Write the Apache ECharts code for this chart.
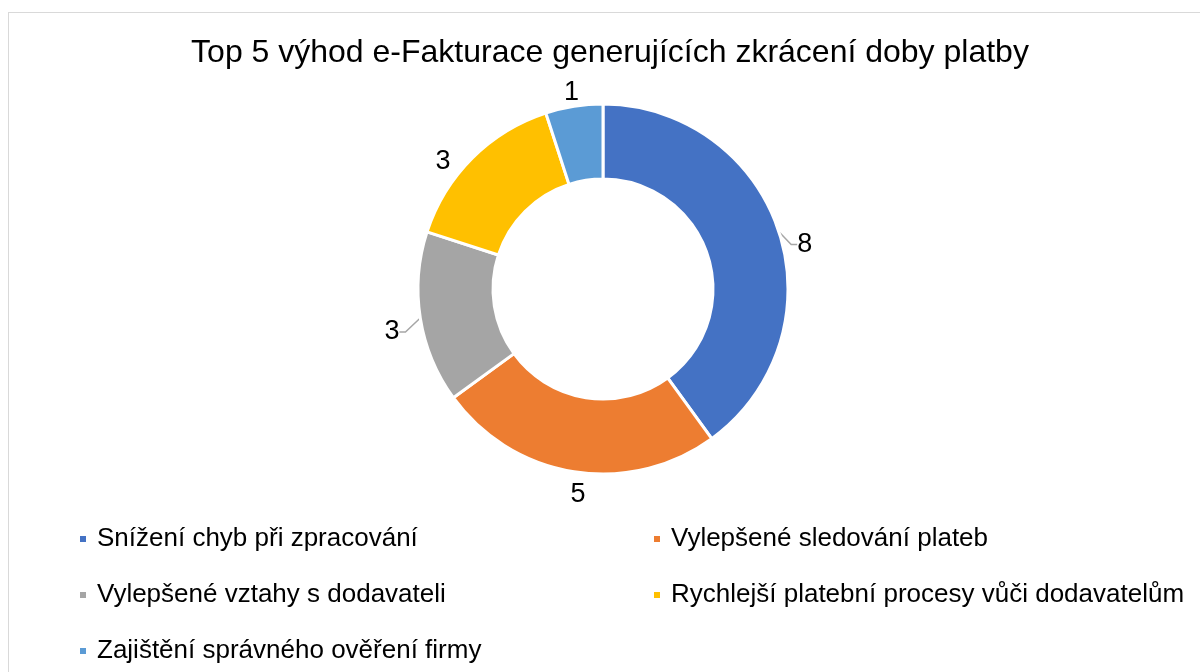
<!DOCTYPE html>
<html>
<head>
<meta charset="utf-8">
<script src="https://cdn.jsdelivr.net/npm/echarts@6/dist/echarts.min.js"></script>
<style>
  html, body { margin: 0; padding: 0; background: #fff; }
  #frame {
    position: absolute; left: 8px; top: 12px; width: 1300px; height: 800px;
    border: 1px solid #d9d9d9; box-sizing: border-box;
  }
  #chart { position: absolute; left: 0; top: 0; width: 1200px; height: 672px; }
</style>
</head>
<body>
<div id="frame"></div>
<div id="chart"></div>
<script>
// data
const categories = [
  "Snížení chyb při zpracování",
  "Vylepšené sledování plateb",
  "Vylepšené vztahy s dodavateli",
  "Rychlejší platební procesy vůči dodavatelům",
  "Zajištění správného ověření firmy"
];
const values = [8, 5, 3, 3, 1];
const colors = ["#4472c4", "#ed7d31", "#a5a5a5", "#ffc000", "#5b9bd5"];

const cx = 603, cy = 289;
const total = values.reduce((a, b) => a + b, 0);

// label placement like excel's "best fit": around the mid angle of each slice
const labelShift = [-5, 2, 2, 6, 0];
const labelDist = [207, 205, 215, 206, 201];

function labelPos(i) {
  let cum = 0;
  for (let k = 0; k < i; k++) cum += values[k];
  const mid = 90 - (cum + values[i] / 2) / total * 360 + labelShift[i];
  const a = mid * Math.PI / 180;
  return [cx + labelDist[i] * Math.cos(a), cy - labelDist[i] * Math.sin(a) + 2];
}

const chart = echarts.init(document.getElementById("chart"));

const option = {
  animation: false,
  color: colors,
  title: {
    text: "Top 5 výhod e-Fakturace generujících zkrácení doby platby",
    left: 605,
    textAlign: "center",
    top: 32,
    textStyle: {
      fontFamily: "Liberation Sans, Arial, sans-serif",
      fontSize: 32,
      fontWeight: "normal",
      color: "#000"
    }
  },
  legend: {
    left: 73,
    top: 521,
    width: 1150,
    orient: "horizontal",
    icon: "rect",
    itemWidth: 8,
    itemHeight: 8,
    itemGap: 30,
    data: categories,
    formatter: function (name) { return "{t|" + name + "}"; },
    textStyle: {
      fontFamily: "Liberation Sans, Arial, sans-serif",
      fontSize: 26,
      color: "#000",
      rich: {
        t: {
          fontFamily: "Liberation Sans, Arial, sans-serif",
          fontSize: 26,
          color: "#000",
          width: 525,
          lineHeight: 26,
          padding: [0, 0, 0, 5]
        }
      }
    }
  },
  series: [
    {
      type: "pie",
      center: [cx, cy],
      radius: [110, 185],
      startAngle: 90,
      clockwise: true,
      itemStyle: { borderColor: "#fff", borderWidth: 3 },
      label: {
        show: true,
        position: "outside",
        formatter: "{c}",
        fontFamily: "Liberation Sans, Arial, sans-serif",
        fontSize: 27,
        color: "#000"
      },
      labelLine: {
        show: true,
        length: 6,
        length2: 6,
        lineStyle: { color: "#a6a6a6", width: 1.5 }
      },
      labelLayout: function (params) {
        const p = labelPos(params.dataIndex);
        return { x: p[0], y: p[1], align: "center", verticalAlign: "middle" };
      },
      data: categories.map((name, i) => ({
        name: name,
        value: values[i],
        labelLine: { show: i === 0 || i === 2 }
      }))
    }
  ]
};

chart.setOption(option);
</script>
</body>
</html>
